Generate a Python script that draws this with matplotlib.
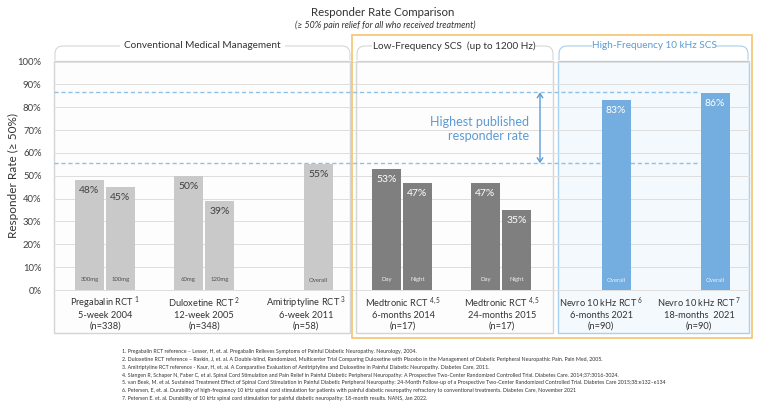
import matplotlib
matplotlib.use("Agg")
import matplotlib.pyplot as plt
import matplotlib.transforms as mtransforms
from matplotlib.patches import Rectangle, FancyArrowPatch
from matplotlib.path import Path
from matplotlib.patches import PathPatch

plt.rcParams['font.family'] = ['Lato', 'DejaVu Sans']
plt.rcParams['mathtext.fontset'] = 'custom'
plt.rcParams['mathtext.rm'] = 'Lato'
plt.rcParams['mathtext.it'] = 'Lato:italic'

# ---------------- data ----------------
study_names = ["Pregabalin RCT", "Duloxetine RCT", "Amitriptyline RCT",
               "Medtronic RCT", "Medtronic RCT", "Nevro 10 kHz RCT", "Nevro 10 kHz RCT"]
study_refs = ["1", "2", "3", "4,5", "4,5", "6", "7"]
study_durations = ["5-week 2004", "12-week 2005", "6-week 2011", "6-months 2014",
                   "24-months 2015", "6-months 2021", "18-months  2021"]
study_n = ["(n=338)", "(n=348)", "(n=58)", "(n=17)", "(n=17)", "(n=90)", "(n=90)"]
study_type = ["cmm", "cmm", "cmm", "lf", "lf", "hf", "hf"]
bar_values = [[48, 45], [50, 39], [55], [53, 47], [47, 35], [83], [86]]
bar_sublabels = [["300mg", "100mg"], ["60mg", "120mg"], ["Overall"], ["Day", "Night"],
                 ["Day", "Night"], ["Overall"], ["Overall"]]
reference_rates = [55, 86]
y_ticks = [0, 10, 20, 30, 40, 50, 60, 70, 80, 90, 100]
panel_titles = ["Conventional Medical Management", "Low-Frequency SCS  (up to 1200 Hz)",
                "High-Frequency 10 kHz SCS"]
footnotes = [
    "1. Pregabalin RCT reference \u2013 Lesser, H, et. al. Pregabalin Relieves Symptoms of Painful Diabetic Neuropathy. Neurology, 2004.",
    "2. Duloxetine RCT reference \u2013 Raskin, J, et. al. A Double-blind, Randomized, Multicenter Trial Comparing Duloxetine with Placebo in the Management of Diabetic Peripheral Neuropathic Pain. Pain Med, 2005.",
    "3. Amitriptyline RCT reference - Kaur, H, et. al. A Comparative Evaluation of Amitriptyline and Duloxetine in Painful Diabetic Neuropathy. Diabetes Care, 2011.",
    "4. Slangen R, Schaper N, Faber C, et al. Spinal Cord Stimulation and Pain Relief in Painful Diabetic Peripheral Neuropathy: A Prospective Two-Center Randomized Controlled Trial. Diabetes Care. 2014;37:3016-3024.",
    "5. van Beek, M. et al. Sustained Treatment Effect of Spinal Cord Stimulation in Painful Diabetic Peripheral Neuropathy: 24-Month Follow-up of a Prospective Two-Center Randomized Controlled Trial. Diabetes Care 2015;38:e132\u2013e134",
    "6. Petersen, E, et. al. Durability of high-frequency 10 kHz spinal cord stimulation for patients with painful diabetic neuropathy refractory to conventional treatments. Diabetes Care, November 2021",
    "7. Petersen E. et. al. Durability of 10 kHz spinal cord stimulation for painful diabetic neuropathy: 18-month results. NANS, Jan 2022.",
]

# ---------------- layout (pixels) ----------------
W, H, DPI = 761, 405, 100
fig = plt.figure(figsize=(W / DPI, H / DPI), dpi=DPI)
PX = mtransforms.Affine2D().scale(1 / DPI, -1 / DPI).translate(0, H / DPI) + fig.dpi_scale_trans

ax_left, ax_right, ax_top, ax_bot = 54, 749, 60, 334
y0_px, y100_px = 290, 61.5
per = (y0_px - y100_px) / 100.0
ylo = -(ax_bot - y0_px) / per
yhi = (y0_px - ax_top) / per
ax = fig.add_axes([ax_left / W, (H - ax_bot) / H, (ax_right - ax_left) / W, (ax_bot - ax_top) / H])
ax.set_xlim(ax_left, ax_right)
ax.set_ylim(ylo, yhi)
for s in ax.spines.values():
    s.set_visible(False)
ax.set_xticks([])
ax.set_yticks(y_ticks)
ax.set_yticklabels([f"{t}%" for t in y_ticks])
ax.tick_params(axis='y', length=0, pad=9, labelsize=6.8, labelcolor='#404040')
ax.set_facecolor('none')

def py2d(py):
    return (y0_px - py) / per

# panels
panels = {"cmm": (54, 350), "lf": (356, 553), "hf": (558, 749)}
pstyle = {"cmm": ('#fdfdfd', '#d4d4d4'), "lf": ('#fdfdfd', '#d4d4d4'), "hf": ('#f3f9fd', '#a9d0ee')}
for k, (x0, x1) in panels.items():
    fc, ec = pstyle[k]
    ax.add_patch(Rectangle((x0, ylo + 0.3), x1 - x0, yhi - ylo - 0.6, facecolor=fc, edgecolor=ec,
                           lw=1.0, zorder=0, clip_on=False))

# gridlines
for t in y_ticks:
    ax.plot([54, 749], [t, t], color='#dedede', lw=0.7, zorder=1, clip_on=False)

# orange box
fig.add_artist(Rectangle((352, 35), 752 - 352, 338 - 35, transform=PX, facecolor='none',
                         edgecolor='#f3c46e', lw=1.2, zorder=5))

# bars
group_centers = [105, 204, 318.5, 402, 501, 616, 715]
label_centers = [105, 204, 306, 403, 502, 601, 699]
bw, off = 29, 15.5
colors = {"cmm": '#c9c9c9', "lf": '#7f7f7f', "hf": '#74ade0'}
vcol = {"cmm": '#404040', "lf": 'white', "hf": 'white'}
scol = {"cmm": '#505050', "lf": '#eeeeee', "hf": '#eaf3fb'}
for gi, vals in enumerate(bar_values):
    n = len(vals)
    xs = [group_centers[gi]] if n == 1 else [group_centers[gi] - off, group_centers[gi] + off]
    typ = study_type[gi]
    ax.bar(xs, vals, width=bw, color=colors[typ], zorder=3)
    for x, v, sl in zip(xs, vals, bar_sublabels[gi]):
        ax.text(x, v - 10.5 / per, f"{v}%", ha='center', va='center', fontsize=7.5,
                color=vcol[typ], zorder=4)
        ax.text(x, py2d(280), sl, ha='center', va='center', fontsize=4.3, color=scol[typ], zorder=4)

# x labels
for gi in range(len(study_names)):
    xc = label_centers[gi]
    ax.text(xc, py2d(303), f"{study_names[gi]} $^{{{study_refs[gi]}}}$", ha='center', va='center',
            fontsize=6.7, color='#333333', clip_on=False)
    ax.text(xc, py2d(315), study_durations[gi], ha='center', va='center', fontsize=6.7,
            color='#333333', clip_on=False)
    ax.text(xc, py2d(326.5), study_n[gi], ha='center', va='center', fontsize=6.7,
            color='#333333', clip_on=False)

# reference dashed lines + arrow
for r in reference_rates:
    ax.plot([54, 700], [r + 0.5, r + 0.5], color='#8ec0e8', lw=1.0, ls=(0, (3, 2)), zorder=2)
ax.add_patch(FancyArrowPatch((540, reference_rates[0] + 0.5), (540, reference_rates[1] + 0.5),
                             arrowstyle='<->,head_length=3,head_width=2', color='#5b9bd5', lw=1.0,
                             mutation_scale=1, zorder=4, shrinkA=0, shrinkB=0))
ax.text(529, 70.5, "Highest published\nresponder rate", ha='right', va='center', fontsize=9,
        color='#5b9bd5', linespacing=1.25, zorder=4)

# panel headers with bracket lines
def bracket(x0, x1, tx0, tx1, color):
    yb, yt, r = 60, 46, 8
    verts = [(x0, yb), (x0, yt + r), (x0, yt), (x0 + r, yt), (tx0, yt)]
    codes = [Path.MOVETO, Path.LINETO, Path.CURVE3, Path.CURVE3, Path.LINETO]
    fig.add_artist(PathPatch(Path(verts, codes), transform=PX, fill=False, edgecolor=color, lw=0.7))
    verts = [(tx1, yt), (x1 - r, yt), (x1, yt), (x1, yt + r), (x1, yb)]
    codes = [Path.MOVETO, Path.LINETO, Path.CURVE3, Path.CURVE3, Path.LINETO]
    fig.add_artist(PathPatch(Path(verts, codes), transform=PX, fill=False, edgecolor=color, lw=0.7))

bracket(55, 350, 120, 285, '#d0d0d0')
fig.text(202, 46, panel_titles[0], transform=PX, ha='center', va='center', fontsize=7.2, color='#333333')
bracket(357, 553, 372, 535, '#d0d0d0')
fig.text(454, 46, panel_titles[1], transform=PX, ha='center', va='center', fontsize=7.2, color='#333333')
bracket(559, 748, 592, 716, '#9cc8ea')
fig.text(654, 46, panel_titles[2], transform=PX, ha='center', va='center', fontsize=7.2, color='#5b9bd5')

# titles
fig.text(383, 12, "Responder Rate Comparison", transform=PX, ha='center', va='center',
         fontsize=8.3, color='#333333')
fig.text(385, 25, "(\u2265 50% pain relief for all who received treatment)", transform=PX,
         ha='center', va='center', fontsize=6.4, style='italic', color='#333333')

# y label
fig.text(13, 175, "Responder Rate (\u2265 50%)", transform=PX, ha='center', va='center',
         rotation=90, fontsize=8.5, color='#333333')

# footnotes
for i, line in enumerate(footnotes):
    fig.text(122, 352 + i * 7.7, line, transform=PX, ha='left', va='center', fontsize=3.8,
             color='#333333')

fig.savefig("out.png", dpi=DPI, facecolor='white')
